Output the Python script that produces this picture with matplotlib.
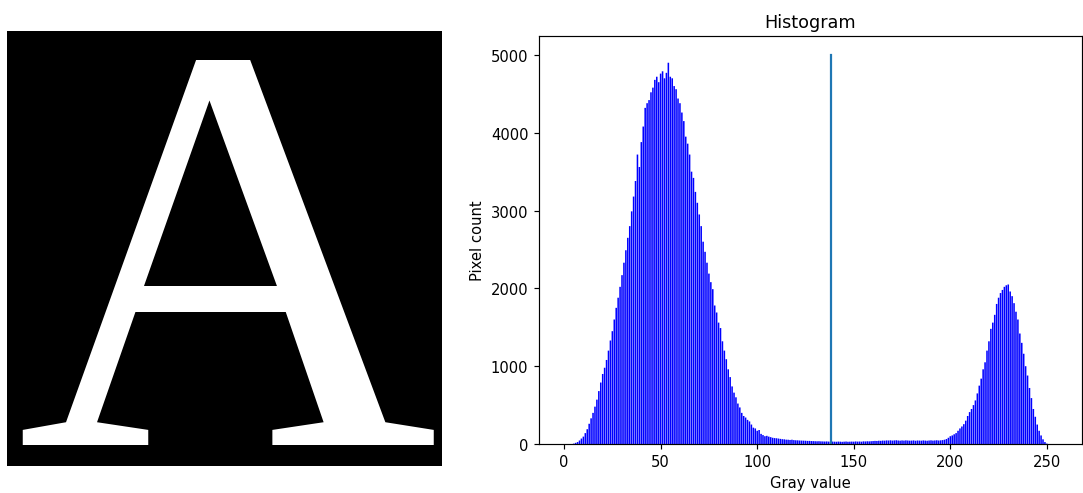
import matplotlib
matplotlib.use("Agg")
import matplotlib.pyplot as plt
import numpy as np

# pixel counts per gray level 0..255
hist_counts = [
    0, 0, 0, 0, 0, 5, 15, 25, 45, 70,
    95, 140, 190, 260, 330, 400, 480, 570, 680, 790,
    900, 980, 1080, 1200, 1330, 1450, 1600, 1750, 1880, 2020,
    2170, 2330, 2490, 2650, 2800, 2990, 3180, 3380, 3720, 3560,
    3880, 4080, 4320, 4380, 4420, 4520, 4580, 4680, 4720, 4650,
    4760, 4790, 4700, 4770, 4900, 4720, 4700, 4600, 4560, 4440,
    4380, 4260, 4150, 3950, 3860, 3720, 3500, 3420, 3240, 3100,
    2950, 2800, 2600, 2470, 2330, 2190, 2080, 1990, 1780, 1690,
    1560, 1490, 1320, 1200, 1090, 960, 860, 740, 660, 600,
    520, 470, 400, 360, 340, 310, 290, 250, 210, 200,
    170, 180, 130, 115, 100, 105, 95, 88, 80, 76,
    74, 70, 66, 62, 60, 56, 55, 52, 55, 50,
    48, 47, 45, 44, 43, 42, 40, 40, 38, 37,
    36, 35, 36, 34, 33, 32, 33, 31, 30, 31,
    30, 29, 31, 30, 28, 30, 32, 29, 30, 31,
    30, 33, 31, 32, 30, 34, 33, 35, 34, 36,
    38, 40, 39, 42, 41, 44, 43, 46, 45, 47,
    44, 46, 48, 45, 43, 46, 44, 47, 45, 43,
    44, 46, 42, 45, 44, 43, 46, 44, 42, 45,
    47, 44, 46, 48, 45, 47, 50, 55, 64, 80,
    100, 110, 125, 140, 170, 200, 225, 255, 300, 360,
    410, 450, 500, 560, 650, 750, 840, 960, 1050, 1200,
    1320, 1480, 1560, 1660, 1800, 1880, 1940, 1980, 2020, 2040,
    2050, 1960, 1900, 1810, 1700, 1600, 1420, 1300, 1160, 1000,
    880, 720, 590, 450, 350, 250, 170, 110, 60, 25,
    5, 0, 0, 0, 0, 0,
]
gray_levels = list(range(256))
threshold = 138
line_top = 5000

letter = "A"

DPI = 106
fig = plt.figure(figsize=(1083 / DPI, 494 / DPI), dpi=DPI)

# left: thresholded letter image
ax_img = fig.add_axes([7 / 1083, 27 / 494, 435 / 1083, 435 / 494])
ax_img.set_facecolor("black")
ax_img.set_xticks([])
ax_img.set_yticks([])
for s in ax_img.spines.values():
    s.set_visible(False)
ax_img.text(0.5046, 0.0506, letter, transform=ax_img.transAxes,
            ha="center", va="baseline", color="white",
            fontfamily="Liberation Serif", fontsize=583 * 72 / DPI,
            clip_on=True)

# right: histogram
ax = fig.add_axes([538.6 / 1083, 49 / 494, (1082 - 538.6) / 1083, (445 - 36.5) / 494])
ax.bar(gray_levels, hist_counts, color="blue", snap=False)
ax.plot([threshold, threshold], [0, line_top])
ax.set_title("Histogram")
ax.set_xlabel("Gray value")
ax.set_ylabel("Pixel count")

fig.savefig("out.png", dpi=DPI)
